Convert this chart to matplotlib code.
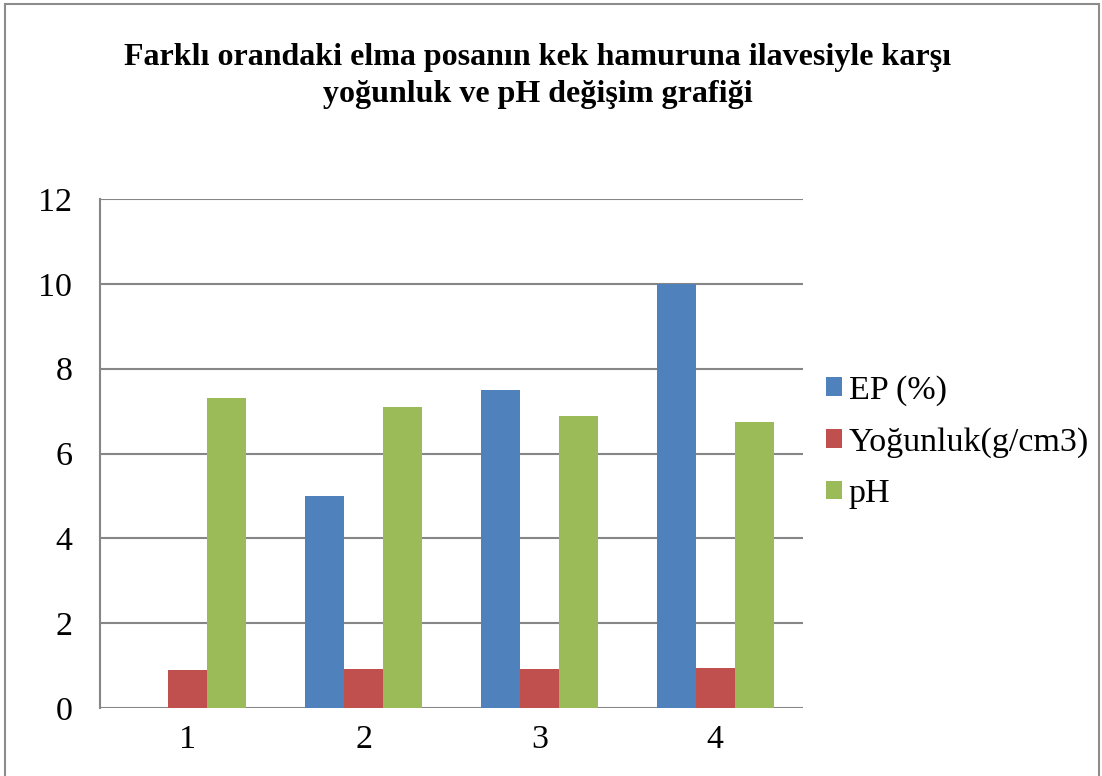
import numpy as np
import matplotlib
matplotlib.use('Agg')
import matplotlib.pyplot as plt
from matplotlib.patches import Rectangle

categories = ['1', '2', '3', '4']
series_names = ['EP (%)', 'Yoğunluk(g/cm3)', 'pH']
ep = [0, 5, 7.5, 10]
yogunluk = [0.89, 0.92, 0.92, 0.94]
ph = [7.3, 7.1, 6.88, 6.74]
colors = ['#4f81bd', '#c0504d', '#9bbb59']
title = 'Farklı orandaki elma posanın kek hamuruna ilavesiyle karşı\nyoğunluk ve pH değişim grafiği'

plt.rcParams['font.family'] = ['Liberation Serif', 'DejaVu Serif']

fig = plt.figure(figsize=(11.02, 7.76), dpi=100)
ax = fig.add_axes([100 / 1102, 1 - 708 / 776, 703 / 1102, 509 / 776])

# outer chart frame
fig.patches.append(Rectangle((5 / 1102, -0.01), 1094 / 1102, 1.01 - 4 / 776,
                             transform=fig.transFigure, fill=False,
                             edgecolor='#8c8c8c', linewidth=1.5))

x = np.arange(1, len(categories) + 1)
w = 0.222
for i, (vals, name) in enumerate(zip([ep, yogunluk, ph], series_names)):
    ax.bar(x + (i - 1) * w, vals, width=w, color=colors[i], label=name,
           edgecolor='none', zorder=3)

ax.set_xlim(0.5, 4.5)
ax.set_ylim(0, 12)
ax.set_yticks(range(0, 13, 2))
ax.set_xticks(x)
ax.set_xticklabels(categories)
ax.tick_params(length=0, labelsize=24.5, pad=12)
ax.tick_params(axis='y', pad=20)
ax.grid(axis='y', color='#868686', linewidth=1.5, zorder=0)
for s in ['top', 'right']:
    ax.spines[s].set_visible(False)
ax.spines['bottom'].set_visible(False)
ax.spines['left'].set_color('#868686')
ax.spines['left'].set_linewidth(1.5)

fig.text(538 / 1102, 1 - 76 / 776, title, ha='center', va='center',
         fontsize=23, fontweight='bold', linespacing=1.39)

fig.legend(loc='center left', bbox_to_anchor=(826 / 1102, 1 - 442 / 776),
           frameon=False, fontsize=24.5, handlelength=0.47, handleheight=0.47,
           handletextpad=0.2, labelspacing=0.62, borderpad=0, borderaxespad=0)

fig.savefig('out.png', dpi=100)
